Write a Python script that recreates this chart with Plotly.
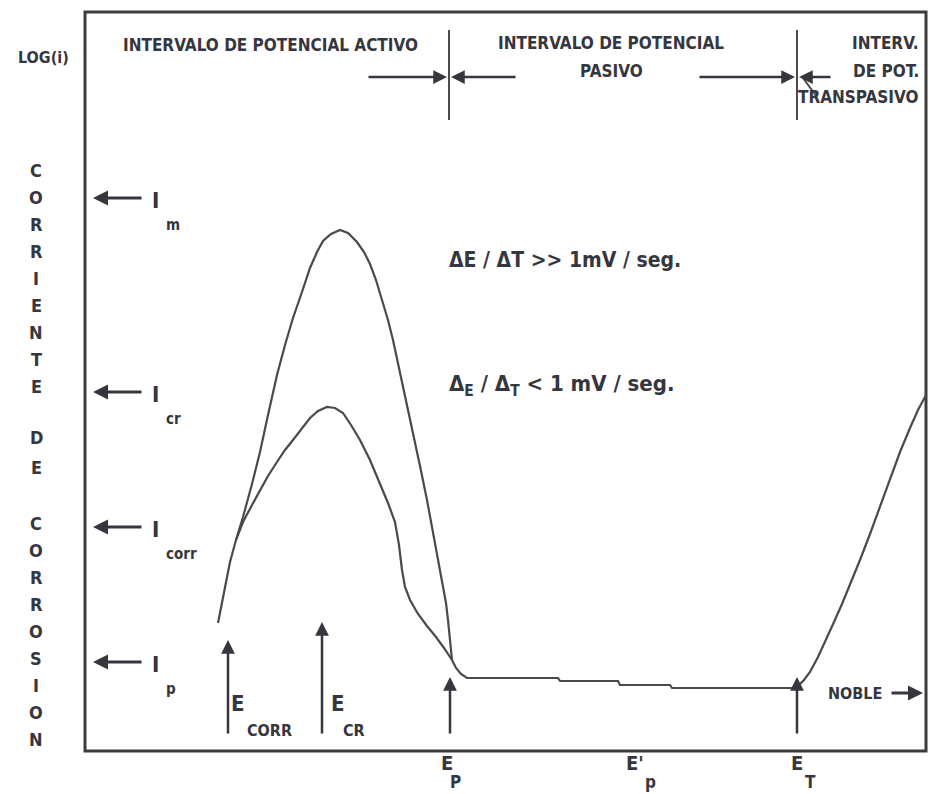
import plotly.graph_objects as go

# Units: x = potential (arbitrary units), y = log(i) (arbitrary units)
# Fast sweep curve (upper, dE/dt >> 1 mV/s)
E_fast = [133, 139, 145, 151, 158, 167, 175, 183, 192, 200, 208, 217, 225, 232, 238, 246, 255,
          263, 272, 279, 285, 291, 297, 303, 308, 315, 322, 329, 335, 342, 348, 353, 358, 361,
          363, 365, 367]
logi_fast = [128, 159, 189, 211, 234, 267, 299, 336, 376, 406, 433, 459, 483, 499, 510, 517, 521,
             518, 509, 499, 487, 471, 451, 431, 411, 379, 346, 314, 285, 251, 219, 193, 168, 148,
             131, 111, 91]

# Slow sweep curve (lower, dE/dt < 1 mV/s)
E_slow = [151, 158, 167, 175, 183, 192, 200, 208, 217, 225, 233, 242, 250, 258, 266, 275, 285,
          295, 303, 310, 314, 317, 320, 325, 333, 342, 351, 359, 365, 367]
logi_slow = [211, 229, 246, 261, 275, 289, 301, 311, 323, 333, 340, 344, 343, 338, 326, 311, 291,
             268, 248, 229, 206, 181, 164, 151, 137, 125, 114, 103, 94, 91]

# Passive and transpassive branch (common)
E_pass = [367, 371, 376, 382, 473, 475, 533, 535, 585, 587, 707, 713, 719, 725, 733, 741, 749,
          757, 765, 775, 785, 795, 805, 815, 825, 833, 841]
logi_pass = [91, 83, 77, 73, 73, 70, 70, 66, 66, 63, 63, 65, 71, 79, 94, 111, 129,
             147, 166, 191, 217, 245, 273, 299, 323, 341, 356]

# Current levels marked on the left
current_subs = ["m", "cr", "corr", "p"]
current_levels = [553, 359, 224, 89]

# Characteristic potentials
E_corr, E_cr, E_p, E_p2, E_T = 143, 237, 365, 550, 712
boundaries = [364, 712]

# Chart frame (axis extent) in the same units
FX0, FX1 = 0, 841
FY0, FY1 = 0, 739

TXT = "#36363f"
LN = "#4a4a4a"
FONT = "DejaVu Sans Condensed, Liberation Sans Narrow, Arial Narrow, sans-serif"

fig = go.Figure()
for xs, ys in [(E_fast, logi_fast), (E_slow, logi_slow), (E_pass, logi_pass)]:
    fig.add_trace(go.Scatter(x=xs, y=ys, mode="lines", line=dict(color=LN, width=2.2),
                             hoverinfo="skip", showlegend=False))

ann = []
shapes = [dict(type="rect", xref="x", yref="y", x0=FX0, x1=FX1, y0=FY0, y1=FY1,
               line=dict(color="#3c3c3c", width=3), layer="below")]


def txt(x, y, s, size, xanchor="center", yanchor="middle"):
    ann.append(dict(x=x, y=y, xref="x", yref="y", text=s, showarrow=False,
                    xanchor=xanchor, yanchor=yanchor,
                    font=dict(family=FONT, size=size, color=TXT, weight="bold")))


def arrow(hx, hy, tx, ty, w=2.5, size=1.1, head=2):
    ann.append(dict(x=hx, y=hy, ax=tx, ay=ty, xref="x", yref="y", axref="x", ayref="y",
                    text="", showarrow=True, arrowhead=head, arrowsize=size,
                    arrowwidth=w, arrowcolor=TXT))


# Region titles
txt(185, 706, "INTERVALO DE POTENCIAL ACTIVO", 17)
txt(526, 708, "INTERVALO DE POTENCIAL", 17)
txt(526, 680, "PASIVO", 17)
txt(836, 708, "INTERV.", 17, xanchor="right")
txt(836, 680, "DE POT.", 17, xanchor="right")
txt(836, 654, "TRANSPASIVO", 17, xanchor="right")

# Region boundaries and arrows
for b in boundaries:
    shapes.append(dict(type="line", xref="x", yref="y", x0=b, x1=b, y0=631, y1=721,
                       line=dict(color=LN, width=2)))
arrow(362, 674, 282, 674)
arrow(366, 674, 432, 674)
arrow(710, 674, 613, 674)
arrow(714, 674, 747, 674)
shapes.append(dict(type="line", xref="x", yref="y", x0=718, x1=732, y0=673, y1=654,
                   line=dict(color=LN, width=2)))

# Y-axis label
txt(-42, 694, "LOG(i)", 16)
for k, ch in enumerate("CORRIENTE"):
    txt(-49, 581 - k * 27.1, ch, 18)
for k, ch in enumerate("DE"):
    txt(-49, 314 - k * 30, ch, 18)
for k, ch in enumerate("CORROSION"):
    txt(-49, 228 - k * 27.1, ch, 18)

# Current level markers
for sub, lv in zip(current_subs, current_levels):
    arrow(8, lv, 58, lv, w=3, size=1.0)
    txt(70, lv - 2, "I", 22)
    txt(79, lv - 27, sub, 15, xanchor="left")

# Potential markers (vertical arrows)
for ex, top in [(E_corr, 111), (E_cr, 129), (E_p, 74), (E_T, 74)]:
    arrow(ex, top, ex, 16, w=2.5, size=1.1)
txt(153, 48, "E", 22)
txt(160, 21, "CORR", 16, xanchor="left")
txt(253, 48, "E", 22)
txt(256, 21, "CR", 16, xanchor="left")

# Labels under the axis
txt(362, -12, "E", 20)
txt(370, -31, "P", 17)
txt(550, -12, "E'", 20)
txt(565, -31, "p", 17)
txt(712, -12, "E", 20)
txt(725, -31, "T", 17)

# NOBLE direction
txt(770, 58, "NOBLE", 16)
arrow(838, 58, 805, 58, w=3, size=1.0)

# Sweep rate annotations
txt(362, 491, "ΔE / ΔT >> 1mV / seg.", 21, xanchor="left")
txt(362, 366, "Δ<sub>E</sub> / Δ<sub>T</sub> < 1 mV / seg.", 22, xanchor="left")

W, H = 929, 794
fig.update_layout(
    width=W, height=H,
    margin=dict(l=0, r=0, t=0, b=0),
    paper_bgcolor="white", plot_bgcolor="white",
    annotations=ann, shapes=shapes,
    xaxis=dict(range=[-85, W - 85], showgrid=False, zeroline=False, showticklabels=False,
               ticks="", showline=False, fixedrange=True),
    yaxis=dict(range=[751 - H, 751], showgrid=False, zeroline=False,
               showticklabels=False, ticks="", showline=False, fixedrange=True),
)
fig.write_html(
    "out.html",
    config={"displayModeBar": False, "staticPlot": True},
    post_script="document.body.style.margin='0';document.body.style.overflow='hidden';",
)
